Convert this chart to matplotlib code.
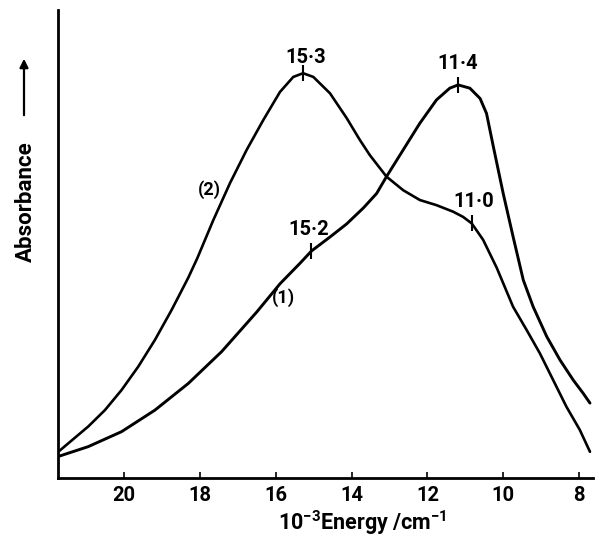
import matplotlib
matplotlib.use("Agg")
import matplotlib.pyplot as plt
from matplotlib.patches import FancyArrowPatch

# Energy in 10^3 cm^-1, absorbance in arbitrary units
energy_2 = [21.74, 20.95, 20.51, 20.07, 19.63, 19.19, 18.75, 18.31, 18.07, 17.65,
            17.21, 16.77, 16.33, 15.89, 15.54, 15.28, 15.01, 14.57, 14.13, 13.78,
            13.52, 13.08, 12.64, 12.20, 11.76, 11.32, 11.06, 10.83, 10.53, 10.17,
            9.74, 9.38, 9.03, 8.68, 8.33, 7.98, 7.71]
absorb_2 = [0.056, 0.110, 0.145, 0.188, 0.238, 0.295, 0.359, 0.428, 0.470, 0.551,
            0.630, 0.701, 0.765, 0.825, 0.857, 0.865, 0.857, 0.822, 0.769, 0.722,
            0.690, 0.644, 0.615, 0.594, 0.583, 0.569, 0.558, 0.544, 0.509, 0.449,
            0.366, 0.316, 0.266, 0.209, 0.152, 0.103, 0.056]

energy_1 = [21.74, 20.95, 20.07, 19.19, 18.31, 17.43, 16.50, 15.89, 15.36, 15.06,
            14.57, 14.13, 13.69, 13.34, 13.08, 12.64, 12.20, 11.76, 11.41, 11.19,
            10.88, 10.61, 10.44, 10.26, 10.00, 9.74, 9.47, 9.21, 8.85, 8.50,
            8.15, 7.89, 7.71]
absorb_1 = [0.046, 0.067, 0.099, 0.145, 0.202, 0.270, 0.355, 0.415, 0.459, 0.485,
            0.515, 0.543, 0.577, 0.608, 0.644, 0.701, 0.758, 0.808, 0.833, 0.840,
            0.833, 0.811, 0.779, 0.708, 0.608, 0.516, 0.423, 0.366, 0.302, 0.252,
            0.209, 0.181, 0.160]

# band marks on the curves: label, tick position, label position
band_labels = ["15·3", "11·4", "11·0", "15·2"]
band_x = [15.28, 11.19, 10.83, 15.06]
band_y = [0.865, 0.840, 0.544, 0.485]
label_x = [15.22, 11.19, 10.79, 15.14]
label_y = [0.899, 0.886, 0.590, 0.531]

curve_names = ["(2)", "(1)"]
name_x = [17.76, 15.81]
name_y = [0.617, 0.385]

xticks = [20, 18, 16, 14, 12, 10, 8]

fnt = ["Roboto", "DejaVu Sans"]
plt.rcParams["mathtext.fontset"] = "custom"
plt.rcParams["mathtext.rm"] = "Roboto:bold"
plt.rcParams["mathtext.default"] = "rm"

fig = plt.figure(figsize=(5.96, 5.39), dpi=100)
ax = fig.add_axes([0.0978, 0.1132, 0.8972, 0.8682])

ax.plot(energy_2, absorb_2, color="black", lw=1.9, solid_joinstyle="round",
        solid_capstyle="round")
ax.plot(energy_1, absorb_1, color="black", lw=2.1, solid_joinstyle="round",
        solid_capstyle="round")

for lab, bx, by, lx, ly in zip(band_labels, band_x, band_y, label_x, label_y):
    ax.plot([bx], [by], marker="|", markersize=11, mew=1.5, color="black")
    ax.text(lx, ly, lab, ha="center", va="center", fontsize=14.5,
            fontweight="bold", family=fnt)

for nm, nx, ny in zip(curve_names, name_x, name_y):
    ax.text(nx, ny, nm, ha="center", va="center", fontsize=13,
            fontweight="bold", family=fnt)

ax.set_xlim(21.74, 7.63)
ax.set_ylim(0, 1)
ax.set_xticks(xticks)
ax.set_xticklabels([str(t) for t in xticks], family=fnt, fontsize=14.5,
                   fontweight="bold")
ax.tick_params(axis="x", direction="in", length=4, width=1.2, pad=6)
ax.set_yticks([])

for side in ["top", "right"]:
    ax.spines[side].set_visible(False)
for side in ["left", "bottom"]:
    ax.spines[side].set_linewidth(2.0)

fig.text(362 / 596, 1 - 523 / 539, r"10$^{-3}$Energy /cm$^{-1}$",
         ha="center", va="center", fontsize=15.5, fontweight="bold", family=fnt)

fig.text(26 / 596, 1 - 202 / 539, "Absorbance", rotation=90, ha="center",
         va="center", fontsize=16, fontweight="bold", family=fnt)
fig.add_artist(FancyArrowPatch(
    (24 / 596, 1 - 118 / 539), (24 / 596, 1 - 56 / 539),
    transform=fig.transFigure, arrowstyle="-|>,head_length=5,head_width=2.5",
    color="black", lw=1.6))

fig.savefig("out.png", dpi=100)
